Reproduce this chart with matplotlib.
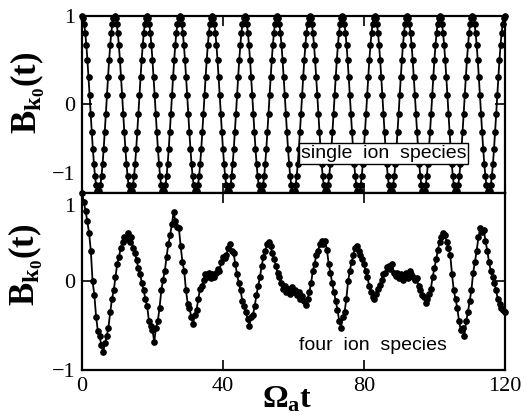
import numpy as np
import matplotlib
matplotlib.use("Agg")
import matplotlib.pyplot as plt
from matplotlib.transforms import ScaledTranslation

# single ion species: sampled oscillation (13 periods over 0..120)
b_single = [
    1.0, 0.978, 0.914, 0.809, 0.669, 0.5, 0.309, 0.105, -0.105, -0.309, -0.5, -0.669, -0.809, -0.914, -0.978, -1.0, -0.978, -0.914, -0.809, -0.669, -0.5, -0.309, -0.105, 0.105, 0.309, 0.5, 0.669, 0.809, 0.914, 0.978,
    1.0, 0.978, 0.914, 0.809, 0.669, 0.5, 0.309, 0.105, -0.105, -0.309, -0.5, -0.669, -0.809, -0.914, -0.978, -1.0, -0.978, -0.914, -0.809, -0.669, -0.5, -0.309, -0.105, 0.105, 0.309, 0.5, 0.669, 0.809, 0.914, 0.978,
    1.0, 0.978, 0.914, 0.809, 0.669, 0.5, 0.309, 0.105, -0.105, -0.309, -0.5, -0.669, -0.809, -0.914, -0.978, -1.0, -0.978, -0.914, -0.809, -0.669, -0.5, -0.309, -0.105, 0.105, 0.309, 0.5, 0.669, 0.809, 0.914, 0.978,
    1.0, 0.978, 0.914, 0.809, 0.669, 0.5, 0.309, 0.105, -0.105, -0.309, -0.5, -0.669, -0.809, -0.914, -0.978, -1.0, -0.978, -0.914, -0.809, -0.669, -0.5, -0.309, -0.105, 0.105, 0.309, 0.5, 0.669, 0.809, 0.914, 0.978,
    1.0, 0.978, 0.914, 0.809, 0.669, 0.5, 0.309, 0.105, -0.105, -0.309, -0.5, -0.669, -0.809, -0.914, -0.978, -1.0, -0.978, -0.914, -0.809, -0.669, -0.5, -0.309, -0.105, 0.105, 0.309, 0.5, 0.669, 0.809, 0.914, 0.978,
    1.0, 0.978, 0.914, 0.809, 0.669, 0.5, 0.309, 0.105, -0.105, -0.309, -0.5, -0.669, -0.809, -0.914, -0.978, -1.0, -0.978, -0.914, -0.809, -0.669, -0.5, -0.309, -0.105, 0.105, 0.309, 0.5, 0.669, 0.809, 0.914, 0.978,
    1.0, 0.978, 0.914, 0.809, 0.669, 0.5, 0.309, 0.105, -0.105, -0.309, -0.5, -0.669, -0.809, -0.914, -0.978, -1.0, -0.978, -0.914, -0.809, -0.669, -0.5, -0.309, -0.105, 0.105, 0.309, 0.5, 0.669, 0.809, 0.914, 0.978,
    1.0, 0.978, 0.914, 0.809, 0.669, 0.5, 0.309, 0.105, -0.105, -0.309, -0.5, -0.669, -0.809, -0.914, -0.978, -1.0, -0.978, -0.914, -0.809, -0.669, -0.5, -0.309, -0.105, 0.105, 0.309, 0.5, 0.669, 0.809, 0.914, 0.978,
    1.0, 0.978, 0.914, 0.809, 0.669, 0.5, 0.309, 0.105, -0.105, -0.309, -0.5, -0.669, -0.809, -0.914, -0.978, -1.0, -0.978, -0.914, -0.809, -0.669, -0.5, -0.309, -0.105, 0.105, 0.309, 0.5, 0.669, 0.809, 0.914, 0.978,
    1.0, 0.978, 0.914, 0.809, 0.669, 0.5, 0.309, 0.105, -0.105, -0.309, -0.5, -0.669, -0.809, -0.914, -0.978, -1.0, -0.978, -0.914, -0.809, -0.669, -0.5, -0.309, -0.105, 0.105, 0.309, 0.5, 0.669, 0.809, 0.914, 0.978,
    1.0, 0.978, 0.914, 0.809, 0.669, 0.5, 0.309, 0.105, -0.105, -0.309, -0.5, -0.669, -0.809, -0.914, -0.978, -1.0, -0.978, -0.914, -0.809, -0.669, -0.5, -0.309, -0.105, 0.105, 0.309, 0.5, 0.669, 0.809, 0.914, 0.978,
    1.0, 0.978, 0.914, 0.809, 0.669, 0.5, 0.309, 0.105, -0.105, -0.309, -0.5, -0.669, -0.809, -0.914, -0.978, -1.0, -0.978, -0.914, -0.809, -0.669, -0.5, -0.309, -0.105, 0.105, 0.309, 0.5, 0.669, 0.809, 0.914, 0.978,
    1.0, 0.978, 0.914, 0.809, 0.669, 0.5, 0.309, 0.105, -0.105, -0.309, -0.5, -0.669, -0.809, -0.914, -0.978, -1.0, -0.978, -0.914, -0.809, -0.669, -0.5, -0.309, -0.105, 0.105, 0.309, 0.5, 0.669, 0.809, 0.914, 0.978,
    1.0,
]

# four ion species: values read every 0.5 in time
b_four = [
    1.0, 0.9, 0.8, 0.68, 0.55, 0.35, 0.0, -0.15, -0.4, -0.56,        # 0 - 4.5
    -0.62, -0.72, -0.8, -0.7, -0.62, -0.52, -0.35, -0.2, -0.1, 0.05,  # 5 - 9.5
    0.2, 0.28, 0.38, 0.45, 0.5, 0.48, 0.55, 0.45, 0.5, 0.38,          # 10 - 14.5
    0.32, 0.24, 0.15, 0.08, -0.02, -0.1, -0.2, -0.28, -0.45, -0.5,    # 15 - 19.5
    -0.55, -0.68, -0.52, -0.45, -0.3, -0.1, 0.02, 0.12, 0.28, 0.42,   # 20 - 24.5
    0.52, 0.65, 0.78, 0.68, 0.62, 0.6, 0.4, 0.22, 0.12, -0.1,         # 25 - 29.5
    -0.25, -0.3, -0.4, -0.48, -0.38, -0.32, -0.2, -0.08, -0.05, 0.02, # 30 - 34.5
    0.08, 0.05, 0.1, 0.04, 0.08, 0.05, 0.1, 0.14, 0.12, 0.22,         # 35 - 39.5
    0.28, 0.26, 0.3, 0.38, 0.42, 0.34, 0.32, 0.2, 0.08, -0.02,        # 40 - 44.5
    -0.1, -0.22, -0.28, -0.35, -0.42, -0.5, -0.4, -0.38, -0.28, -0.15, # 45 - 49.5
    -0.05, 0.05, 0.18, 0.28, 0.35, 0.42, 0.45, 0.4, 0.32, 0.25,       # 50 - 54.5
    0.18, 0.1, 0.05, -0.02, -0.08, -0.05, -0.12, -0.08, -0.14, -0.06, # 55 - 59.5
    -0.12, -0.1, -0.15, -0.12, -0.2, -0.16, -0.22, -0.26, -0.2, -0.12, # 60 - 64.5
    -0.02, 0.12, 0.2, 0.3, 0.35, 0.42, 0.46, 0.42, 0.46, 0.36,        # 65 - 69.5
    0.2, 0.1, -0.02, -0.12, -0.22, -0.32, -0.45, -0.52, -0.4, -0.35,  # 70 - 74.5
    -0.2, 0.0, 0.12, 0.22, 0.3, 0.38, 0.4, 0.35, 0.3, 0.25,           # 75 - 79.5
    0.2, 0.12, 0.05, -0.05, -0.12, -0.18, -0.2, -0.14, -0.08, -0.04,  # 80 - 84.5
    0.02, 0.08, 0.1, 0.16, 0.18, 0.14, 0.2, 0.1, 0.06, 0.1,           # 85 - 89.5
    0.04, 0.08, 0.02, 0.06, 0.1, 0.04, 0.12, 0.08, 0.05, 0.02,        # 90 - 94.5
    0.04, -0.05, -0.1, -0.15, -0.18, -0.24, -0.2, -0.14, -0.08, 0.05, # 95 - 99.5
    0.15, 0.25, 0.36, 0.45, 0.5, 0.55, 0.52, 0.45, 0.38, 0.3,         # 100 - 104.5
    0.08, -0.1, -0.2, -0.3, -0.45, -0.55, -0.52, -0.62, -0.45, -0.35, # 105 - 109.5
    -0.22, -0.1, 0.1, 0.22, 0.35, 0.5, 0.6, 0.56, 0.58, 0.46,         # 110 - 114.5
    0.35, 0.22, 0.12, 0.05, -0.02, -0.1, -0.2, -0.25, -0.3, -0.32,    # 115 - 119.5
    -0.34,                                                             # 120
]

t_single = np.linspace(0, 120, len(b_single))
t_four = np.linspace(0, 120, len(b_four))

x_ticks = [0, 40, 80, 120]
y_ticks = [-1, 0, 1]

plt.rcParams["mathtext.fontset"] = "custom"
plt.rcParams["mathtext.rm"] = "Liberation Serif:bold"
plt.rcParams["mathtext.it"] = "Liberation Serif:bold"
plt.rcParams["mathtext.bf"] = "Liberation Serif:bold"

fig = plt.figure(figsize=(5.24, 4.15), dpi=100)
ax_top = fig.add_axes([0.1565, 0.535, 0.807, 0.4265])
ax_bot = fig.add_axes([0.1565, 0.1084, 0.807, 0.4266])

tick_font = {"family": "Liberation Serif", "size": 16}

for ax, t, b in [(ax_top, t_single, b_single), (ax_bot, t_four, b_four)]:
    ax.plot(t, b, color="black", lw=1.3, marker="o", ms=3.8, clip_on=False)
    ax.set_xlim(0, 120)
    ax.set_ylim(-1, 1)
    ax.set_xticks(x_ticks)
    ax.set_yticks(y_ticks)
    ax.tick_params(direction="in", length=7, width=1.2, top=True, right=True, pad=5)
    for s in ax.spines.values():
        s.set_linewidth(1.6)
    ax.set_ylabel(r"$\mathrm{B_{k_0}(t)}$", fontsize=25)

ax_top.set_xticklabels([])
ax_bot.set_xticklabels([str(v) for v in x_ticks], fontdict=tick_font)
ax_bot.set_yticklabels(["\u22121", "0", "1"], fontdict=tick_font)
ax_top.set_yticklabels(["\u22121", "0", "1"], fontdict=tick_font)

# shift the labels that would collide at the shared edge
up = ScaledTranslation(0, 20 / 100, fig.dpi_scale_trans)
down = ScaledTranslation(0, -12 / 100, fig.dpi_scale_trans)
lab = ax_top.get_yticklabels()[0]
lab.set_transform(lab.get_transform() + up)
lab = ax_bot.get_yticklabels()[2]
lab.set_transform(lab.get_transform() + down)

ax_top.yaxis.set_label_coords(-0.083, 0.565)
ax_bot.yaxis.set_label_coords(-0.087, 0.593)

ax_bot.set_xlabel(r"$\Omega_\mathrm{a}\mathrm{t}$", fontsize=23)
ax_bot.xaxis.set_label_coords(0.485, -0.075)

ax_top.text(85.5, -0.55, "single  ion  species", family="Liberation Sans", fontsize=14,
            ha="center", va="center",
            bbox=dict(boxstyle="square,pad=0.1", fc="white", ec="black", lw=1.0))
ax_bot.text(82.6, -0.72, "four  ion  species", family="Liberation Sans", fontsize=14,
            ha="center", va="center")

fig.savefig("out.png", dpi=100)
